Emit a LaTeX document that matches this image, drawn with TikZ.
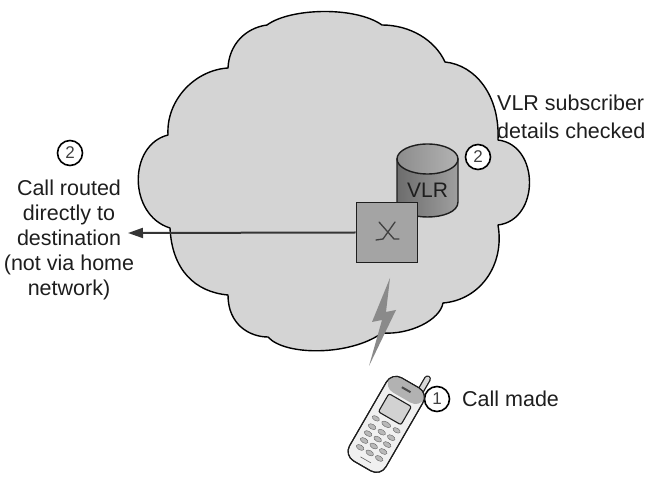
\documentclass[tikz,border=0pt]{standalone}
\usepackage{fontspec}
\setmainfont{Liberation Sans}
\usetikzlibrary{arrows.meta}
\definecolor{cloudfill}{HTML}{D4D4D4}
\definecolor{boxfill}{HTML}{A4A4A4}
\definecolor{inkdark}{HTML}{1E1E1E}
\definecolor{boltgray}{HTML}{8A8A8A}
\tikzset{
  cloudshape/.style={draw=black, line width=1.4pt, fill=cloudfill, line join=round},
  lbl/.style={text=inkdark, font=\fontsize{21.5}{25}\selectfont, inner sep=0pt},
  numcirc/.style={circle, draw=black, line width=1.6pt, fill=white, minimum size=25pt,
    inner sep=0pt, text=inkdark!85, font=\fontsize{17}{17}\selectfont},
  switchbox/.style={draw=inkdark, line width=1.8pt, fill=boxfill, minimum width=61pt,
    minimum height=60pt, inner sep=0pt},
  route/.style={draw=inkdark!90, line width=2pt, -{Triangle[length=15pt,width=10pt]}},
  phoneline/.style={draw=inkdark, line width=1.1pt},
  keycap/.style={fill=gray!55, draw=inkdark!70, line width=0.4pt}
}
\begin{document}
\begin{tikzpicture}[x=1pt, y=-1pt]
\useasboundingbox (0,0) rectangle (662,478);

% the serving network
\path[cloudshape] (168,135)
  .. controls (166,100) and (195,70) .. (228,68)
  .. controls (229,45) and (245,28) .. (267,25)
  .. controls (290,8) and (355,6) .. (382,25)
  .. controls (410,25) and (435,40) .. (445,62)
  .. controls (475,65) and (500,95) .. (498,140)
  .. controls (540,145) and (540,220) .. (498,225)
  .. controls (505,265) and (480,300) .. (443,303)
  .. controls (440,320) and (410,335) .. (382,333)
  .. controls (350,356) and (285,356) .. (268,337)
  .. controls (250,337) and (228,325) .. (228,295)
  .. controls (195,292) and (172,270) .. (170,228)
  .. controls (128,215) and (128,145) .. cycle;

% VLR database cylinder
\shade[left color=gray!85!black, right color=gray!75, draw=inkdark, line width=1.4pt]
  (397,159) -- (397,202) .. controls (397,222) and (458,222) .. (458,202) -- (458,159) -- cycle;
\shade[left color=gray!110!black, right color=gray!60, draw=inkdark, line width=1.4pt]
  (427.5,159) ellipse [x radius=30.5, y radius=15];
\node[lbl, font=\fontsize{21}{21}\selectfont] (vlr) at (427.5,190) {VLR};

% switching centre
\node[switchbox] (sw) at (387,232.5) {};
\draw[inkdark!85, line width=1.3pt, line cap=round]
  (379,222) -- (394,239) -- (399,239)
  (395,222) -- (383,239) -- (376,240);

% call routed out of the network
\coordinate (dest) at (128,233);
\draw[route] (sw.west) -- (dest);

% radio link
\fill[boltgray] (390,278) -- (372,322) -- (382,320) -- (369,366) -- (396,310) -- (386,312) -- cycle;

% annotations
\node[numcirc] (n2l) at (70,153) {2};
\node[lbl, align=center] (routed) at (69,240)
  {Call routed\\directly to\\destination\\(not via home\\network)};
\node[numcirc] (n2r) at (478,157) {2};
\node[lbl, align=left, anchor=west, font=\fontsize{21.5}{28}\selectfont] (checked) at (497,117)
  {VLR subscriber\\details checked};
\node[numcirc] (n1) at (437,399) {1};
\node[lbl, anchor=west] (made) at (462,399) {Call made};

% handset
\begin{scope}[shift={(386.7,423.5)}, rotate=-30]
  \draw[line width=7pt, inkdark, line cap=round] (13,-44) -- (13,-59);
  \draw[line width=4.4pt, gray!30, line cap=round] (13,-44) -- (13,-59);
  \path[phoneline, fill=gray!12, rounded corners=11pt] (-21,-47) rectangle (21,49);
  \path[fill=gray!60, rounded corners=10pt] (-20.3,-46.3) -- (20.3,-46.3) -- (20.3,-30) -- (-20.3,-30) -- cycle;
  \path[phoneline, rounded corners=11pt] (-21,-47) rectangle (21,49);
  \path[phoneline, fill=gray!35, rounded corners=2pt] (-13,-27) rectangle (13,-6);
  \fill[inkdark!80] (-5,-40) rectangle (5,-38);
  \path[keycap] (0,1) ellipse [x radius=5, y radius=2.5];
  \path[keycap] (-12,1) ellipse [x radius=4, y radius=2.2];
  \path[keycap] (12,1) ellipse [x radius=4, y radius=2.2];
  \foreach \r in {10,18,26,34} {
    \foreach \c in {-11,0,11} {
      \path[keycap] (\c,\r) ellipse [x radius=4.2, y radius=2.4];
    }
  }
  \draw[inkdark!70, line width=0.6pt] (-6,42) -- (6,42);
\end{scope}
\end{tikzpicture}
\end{document}
